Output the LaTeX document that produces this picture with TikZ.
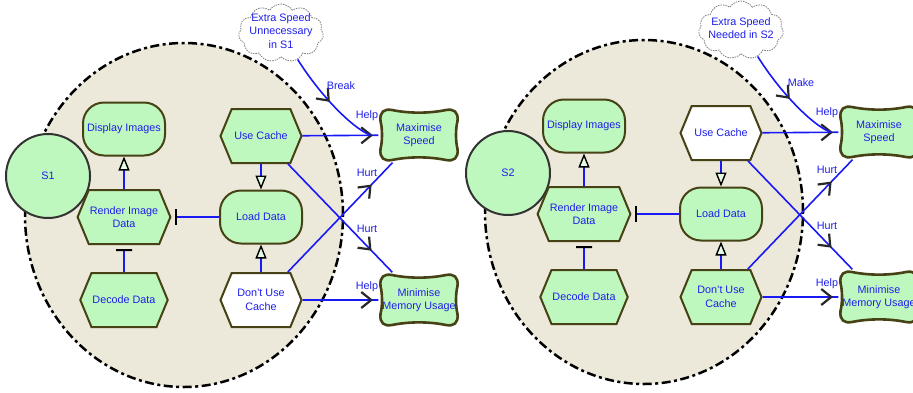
\documentclass[tikz,border=0pt]{standalone}
\usepackage{fontspec}
\setmainfont{Liberation Sans}
\usetikzlibrary{arrows.meta,decorations.markings,shapes.symbols,shapes.misc}

\definecolor{goalgreen}{RGB}{191,248,191}
\definecolor{olive}{RGB}{70,66,22}
\definecolor{bndfill}{RGB}{236,232,218}
\definecolor{lnblue}{RGB}{25,25,245}
\definecolor{txtblue}{RGB}{30,30,235}
\definecolor{barbgray}{RGB}{40,40,40}

\tikzset{
  cbarb/.tip={Straight Barb[length=10pt,width=16pt,line width=2.2pt,color=barbgray]},
  elem/.style={draw=olive, line width=2pt, text=txtblue, align=center, inner sep=1pt,
    font=\fontsize{10.8}{13.5}\selectfont},
  task/.style={elem, signal, signal to=east and west, signal pointer angle=135,
    minimum width=81pt, minimum height=54pt},
  hardgoal/.style={elem, rectangle, rounded corners=21pt, fill=goalgreen,
    minimum width=82pt, minimum height=53pt},
  actor/.style={elem, circle, draw=black!80, fill=goalgreen, minimum size=84pt},
  softgoal/.style={rectangle, text=txtblue, align=center, inner sep=1pt,
    font=\fontsize{10.8}{13.5}\selectfont, minimum width=81pt, minimum height=55pt},
  sgshape/.pic={
    \draw[line width=2.6pt, draw=olive, fill=goalgreen]
      (-27,25) .. controls (-10,21.5) and (10,21.5) .. (27,25)
      .. controls (35,26.5) and (39.5,23) .. (38.5,14)
      .. controls (36.5,6) and (36.5,-6) .. (38.5,-14)
      .. controls (39.5,-23) and (35,-26.5) .. (27,-25)
      .. controls (10,-21.5) and (-10,-21.5) .. (-27,-25)
      .. controls (-35,-26.5) and (-39.5,-23) .. (-38.5,-14)
      .. controls (-36.5,-6) and (-36.5,6) .. (-38.5,14)
      .. controls (-39.5,23) and (-35,26.5) .. (-27,25) -- cycle;},
  belief/.style={cloud, cloud puffs=11, cloud puff arc=115, draw=gray, line width=0.8pt,
    dash pattern=on 1.5pt off 1pt, fill=white, minimum width=85pt, minimum height=58pt,
    inner sep=0pt},
  lbl/.style={text=txtblue, inner sep=0pt, align=center, font=\fontsize{10.8}{13.5}\selectfont},
  actorbnd/.style={draw=black, fill=bndfill, line width=2.5pt,
    dash pattern=on 9pt off 3.5pt on 3pt off 3.5pt},
  link/.style={draw=lnblue, line width=1.6pt},
  contrib/.style={link, postaction={decorate},
    decoration={markings, mark=at position #1 with {\arrow{cbarb}}}},
  meansend/.style={link, -{Triangle[length=14pt,width=11pt,line width=1.4pt,color=black,fill=goalgreen!40]}},
  decomp/.style={link, -{Bar[width=16pt,line width=2pt,color=black]}, shorten >=4pt}
}

\begin{document}
\begin{tikzpicture}[x=1pt,y=-1pt]

\useasboundingbox (0,0) rectangle (913,392);
\clip (0,0) rectangle (913,392);

\foreach \n/\dx/\dy/\ucfill/\dufill/\cltext/\rel in {%
    1/0/0/goalgreen/white/{Extra Speed\\Unnecessary\\in S1}/Break,%
    2/460/-3/white/goalgreen/{Extra Speed\\Needed in S2}/Make}{
\begin{scope}[shift={(\dx,\dy)}]

% actor boundary and situation
\draw[actorbnd] (184,215) ellipse [x radius=159pt, y radius=172pt];
\node[actor] (s\n) at (48,176) {S\n};

% elements
\node[hardgoal] (di\n) at (124,129) {Display Images};
\node[task, fill=goalgreen] (rid\n) at (124,217) {Render Image\\Data};
\node[task, fill=goalgreen] (dd\n) at (124,300) {Decode Data};
\node[task, fill=\ucfill] (uc\n) at (261,136) {Use Cache};
\node[hardgoal] (ld\n) at (261,217) {Load Data};
\node[task, fill=\dufill] (duc\n) at (261,300) {Don't Use\\Cache};
\pic at (419,135) {sgshape};
\node[softgoal] (ms\n) at (419,135) {Maximise\\Speed};
\pic at (419,300) {sgshape};
\node[softgoal] (mmu\n) at (419,300) {Minimise\\Memory Usage};
\node[belief] (cl\n) at (281,33) {};
\node[lbl] (clt\n) at (281,31) {\cltext};

% links
\draw[meansend] (rid\n) -- (di\n);
\draw[meansend] (uc\n) -- (ld\n);
\draw[meansend] (duc\n) -- (ld\n);
\draw[decomp] (ld\n) -- (rid\n);
\draw[decomp] (dd\n) -- (rid\n);

\draw[contrib=0.93] (uc\n) -- coordinate[pos=0.9] (hk\n) (ms\n);
\draw[contrib=0.8] (uc\n) -- (mmu\n);
\draw[contrib=0.8] (duc\n) -- (ms\n);
\draw[contrib=0.93] (duc\n) -- (mmu\n);
\draw[contrib=0.5] (cl\n) .. controls (320,95) and (352,128) .. (hk\n);

\node[lbl] (rl\n) at (341,86) {\rel};
\node[lbl] (hpa\n) at (367,116) {Help};
\node[lbl] (hta\n) at (367,173) {Hurt};
\node[lbl] (htb\n) at (367,229) {Hurt};
\node[lbl] (hpb\n) at (367,287) {Help};

\end{scope}
}

\end{tikzpicture}
\end{document}
